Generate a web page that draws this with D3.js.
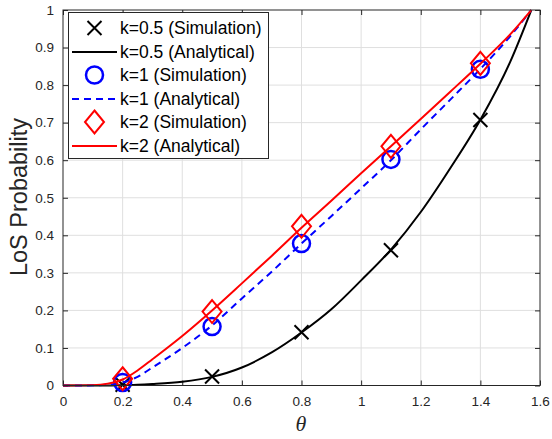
<!DOCTYPE html>
<html>
<head>
<meta charset="utf-8">
<script src="https://cdn.jsdelivr.net/npm/d3@7"></script>
<style>
  body { margin: 0; background: #fff; }
  svg { display: block; font-family: "Liberation Sans", Arial, sans-serif; }
</style>
</head>
<body>
<svg id="chart" width="552" height="439"></svg>
<script>
// theta grid for the analytical curves
const thetaCurve = [0, 0.1, 0.15, 0.2, 0.25, 0.3, 0.4, 0.5, 0.6, 0.7, 0.8, 0.9, 1.0, 1.1, 1.2, 1.3, 1.4, 1.5, 1.5708];
const anaK05 = [0, 0, 0, 0.001, 0.002, 0.004, 0.01, 0.023, 0.048, 0.088, 0.141, 0.203, 0.28, 0.362, 0.462, 0.58, 0.708, 0.862, 1];
const anaK1  = [0, 0.0005, 0.002, 0.008, 0.023, 0.048, 0.1, 0.16, 0.232, 0.303, 0.378, 0.451, 0.525, 0.6, 0.682, 0.762, 0.843, 0.93, 1];
const anaK2  = [0, 0.001, 0.005, 0.016, 0.04, 0.07, 0.132, 0.2, 0.272, 0.345, 0.42, 0.492, 0.565, 0.637, 0.71, 0.783, 0.857, 0.935, 1];

// simulation points
const thetaSim = [0.2, 0.5, 0.8, 1.1, 1.4];
const simK05 = [0.002, 0.024, 0.142, 0.36, 0.707];
const simK1  = [0.008, 0.157, 0.378, 0.602, 0.842];
const simK2  = [0.018, 0.197, 0.424, 0.637, 0.858];

const xTicks = [0, 0.2, 0.4, 0.6, 0.8, 1, 1.2, 1.4, 1.6];
const yTicks = [0, 0.1, 0.2, 0.3, 0.4, 0.5, 0.6, 0.7, 0.8, 0.9, 1];

const legendLabels = [
  "k=0.5 (Simulation)", "k=0.5 (Analytical)",
  "k=1 (Simulation)", "k=1 (Analytical)",
  "k=2 (Simulation)", "k=2 (Analytical)"
];

const svg = d3.select("#chart");
const axisColor = "#262626";

const x = d3.scaleLinear().domain([0, 1.6]).range([63, 540]);
const y = d3.scaleLinear().domain([0, 1]).range([385.5, 10]);

// grid
const grid = svg.append("g");
grid.selectAll(".gx").data(xTicks.slice(1, -1)).enter().append("line")
  .attr("x1", d => x(d)).attr("x2", d => x(d))
  .attr("y1", y(0)).attr("y2", y(1))
  .attr("stroke", "#dfdfdf").attr("stroke-width", 1);
grid.selectAll(".gy").data(yTicks.slice(1, -1)).enter().append("line")
  .attr("y1", d => y(d)).attr("y2", d => y(d))
  .attr("x1", x(0)).attr("x2", x(1.6))
  .attr("stroke", "#dfdfdf").attr("stroke-width", 1);

// axes (ticks inward on all sides)
function styleAxis(g) {
  g.select(".domain").remove();
  g.selectAll(".tick line").attr("stroke", axisColor);
  g.selectAll(".tick text").attr("fill", axisColor).style("font-size", "13.5px")
    .style("font-family", "'Liberation Sans', Arial, sans-serif");
}
svg.append("g").attr("transform", `translate(0,${y(0)})`)
  .call(d3.axisBottom(x).tickValues(xTicks).tickFormat(d3.format("")).tickSizeInner(-5).tickPadding(11))
  .call(styleAxis);
svg.append("g").attr("transform", `translate(${x(0)},0)`)
  .call(d3.axisLeft(y).tickValues(yTicks).tickFormat(d3.format("")).tickSizeInner(-5).tickPadding(9))
  .call(styleAxis);
svg.append("g").attr("transform", `translate(0,${y(1)})`)
  .call(d3.axisTop(x).tickValues(xTicks).tickFormat("").tickSizeInner(-5))
  .call(styleAxis);
svg.append("g").attr("transform", `translate(${x(1.6)},0)`)
  .call(d3.axisRight(y).tickValues(yTicks).tickFormat("").tickSizeInner(-5))
  .call(styleAxis);

// data
const line = d3.line().x(d => x(d[0])).y(d => y(d[1])).curve(d3.curveMonotoneX);
const zip = (a, b) => a.map((v, i) => [v, b[i]]);

function crossPath(s) { return `M${-s},${-s}L${s},${s}M${-s},${s}L${s},${-s}`; }
function diamondPath(w, h) { return `M0,${-h}L${w},0L0,${h}L${-w},0Z`; }

const plot = svg.append("g");

// k=0.5
plot.selectAll(".m05").data(zip(thetaSim, simK05)).enter().append("path")
  .attr("transform", d => `translate(${x(d[0])},${y(d[1])})`)
  .attr("d", crossPath(7)).attr("stroke", "#000").attr("stroke-width", 2).attr("fill", "none");
plot.append("path").datum(zip(thetaCurve, anaK05)).attr("d", line)
  .attr("fill", "none").attr("stroke", "#000").attr("stroke-width", 2);

// k=1
plot.selectAll(".m1").data(zip(thetaSim, simK1)).enter().append("circle")
  .attr("cx", d => x(d[0])).attr("cy", d => y(d[1])).attr("r", 8.5)
  .attr("fill", "none").attr("stroke", "#0000ff").attr("stroke-width", 2.5);
plot.append("path").datum(zip(thetaCurve, anaK1)).attr("d", line)
  .attr("fill", "none").attr("stroke", "#0000ff").attr("stroke-width", 2)
  .attr("stroke-dasharray", "7,5");

// k=2
plot.selectAll(".m2").data(zip(thetaSim, simK2)).enter().append("path")
  .attr("transform", d => `translate(${x(d[0])},${y(d[1])})`)
  .attr("d", diamondPath(9.5, 11.5)).attr("fill", "none").attr("stroke", "#ff0000").attr("stroke-width", 2);
plot.append("path").datum(zip(thetaCurve, anaK2)).attr("d", line)
  .attr("fill", "none").attr("stroke", "#ff0000").attr("stroke-width", 2);

// box
svg.append("rect").attr("x", x(0)).attr("y", y(1))
  .attr("width", x(1.6) - x(0)).attr("height", y(0) - y(1))
  .attr("fill", "none").attr("stroke", axisColor).attr("stroke-width", 1);

// axis labels
svg.append("text").attr("x", 301).attr("y", 431).attr("text-anchor", "middle")
  .style("font-family", "'Liberation Serif', 'DejaVu Serif', serif").style("font-style", "italic")
  .style("font-size", "22px").attr("fill", axisColor).text("θ");
svg.append("text").attr("transform", "translate(27,197) rotate(-90)").attr("text-anchor", "middle")
  .style("font-size", "23.5px").attr("fill", axisColor).text("LoS Probability");

// legend
const lg = svg.append("g");
lg.append("rect").attr("x", 68.5).attr("y", 12.5).attr("width", 200).attr("height", 146)
  .attr("fill", "#fff").attr("stroke", axisColor).attr("stroke-width", 1);
const rowY = [28, 52, 75, 99, 122, 146];
const sx0 = 72, sx1 = 117, sxm = 94.5;
legendLabels.forEach((lab, i) => {
  const ry = rowY[i];
  const g = lg.append("g");
  if (i === 0) g.append("path").attr("transform", `translate(${sxm},${ry})`).attr("d", crossPath(7))
    .attr("stroke", "#000").attr("stroke-width", 2).attr("fill", "none");
  if (i === 1) g.append("line").attr("x1", sx0).attr("x2", sx1).attr("y1", ry).attr("y2", ry)
    .attr("stroke", "#000").attr("stroke-width", 2);
  if (i === 2) g.append("circle").attr("cx", sxm).attr("cy", ry).attr("r", 8.5)
    .attr("fill", "none").attr("stroke", "#0000ff").attr("stroke-width", 2.5);
  if (i === 3) g.append("line").attr("x1", sx0).attr("x2", sx1).attr("y1", ry).attr("y2", ry)
    .attr("stroke", "#0000ff").attr("stroke-width", 2).attr("stroke-dasharray", "7,5");
  if (i === 4) g.append("path").attr("transform", `translate(${sxm},${ry})`).attr("d", diamondPath(9.5, 11.5))
    .attr("fill", "none").attr("stroke", "#ff0000").attr("stroke-width", 2);
  if (i === 5) g.append("line").attr("x1", sx0).attr("x2", sx1).attr("y1", ry).attr("y2", ry)
    .attr("stroke", "#ff0000").attr("stroke-width", 2);
  g.append("text").attr("x", 120).attr("y", ry).attr("dy", "0.35em")
    .style("font-size", "17.5px").attr("fill", "#000").text(lab);
});
</script>
</body>
</html>
